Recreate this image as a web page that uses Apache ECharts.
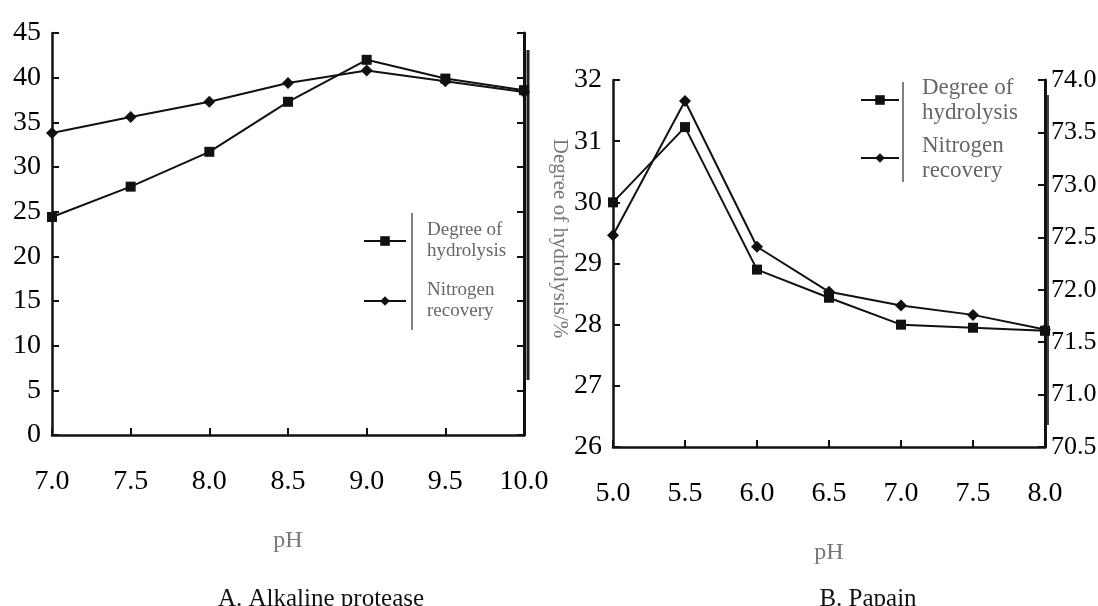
<!DOCTYPE html>
<html>
<head>
<meta charset="utf-8">
<script src="https://cdn.jsdelivr.net/npm/echarts@6/dist/echarts.min.js"></script>
<style>
  html, body { margin: 0; padding: 0; background: #fff; }
  #chart { width: 1098px; height: 606px; }
</style>
</head>
<body>
<div id="chart"></div>
<script>
// A. Alkaline protease
var phA = ['7.0', '7.5', '8.0', '8.5', '9.0', '9.5', '10.0']
var dhA = [24.4, 27.8, 31.7, 37.3, 42.0, 39.9, 38.6]
var nrA = [33.8, 35.6, 37.3, 39.4, 40.8, 39.6, 38.4]
// B. Papain
var phB = ['5.0', '5.5', '6.0', '6.5', '7.0', '7.5', '8.0']
var dhB = [30.0, 31.23, 28.9, 28.44, 28.0, 27.95, 27.9]
var nrB = [72.52, 73.8, 72.41, 71.98, 71.85, 71.76, 71.62]

var nameDH = 'Degree of\nhydrolysis'
var nameNR = 'Nitrogen\nrecovery'

var serif = "'Liberation Serif', 'DejaVu Serif', serif"
var tickFont = { fontFamily: serif, fontSize: 28, color: '#000' }
var axLine = { lineStyle: { color: '#111', width: 2.5 } }

function xAxisOf(grid, cats) {
  return {
    type: 'category', gridIndex: grid, data: cats, boundaryGap: false,
    axisLine: axLine,
    axisTick: { inside: true, length: 7, lineStyle: { color: '#111', width: 2 } },
    axisLabel: Object.assign({ margin: 33 }, tickFont),
    name: 'pH', nameLocation: 'middle', nameGap: 94,
    nameTextStyle: { fontFamily: serif, fontSize: 24, color: '#777' },
    splitLine: { show: false }
  }
}

function yAxisOf(grid, pos, min, max, step, showLabel, digits) {
  return {
    type: 'value', gridIndex: grid, position: pos, min: min, max: max, interval: step,
    axisLine: { show: true, lineStyle: { color: '#111', width: pos === 'right' ? 3 : 2.5 } },
    axisTick: { show: true, inside: true, length: 7, lineStyle: { color: '#111', width: 2 } },
    axisLabel: Object.assign({
      show: showLabel, margin: pos === 'right' ? 6 : 11,
      formatter: function(v) { return v.toFixed(digits) }
    }, tickFont),
    splitLine: { show: false }
  }
}

var rightB = yAxisOf(1, 'right', 70.5, 74, 0.5, true, 1)
rightB.axisLabel.fontSize = 26

var chart = echarts.init(document.getElementById('chart'))

var option = {
  backgroundColor: '#fff',
  animation: false,
  title: [
    { text: 'A. Alkaline protease', left: 316, top: 582, textAlign: 'center',
      textStyle: { fontFamily: serif, fontSize: 25, fontWeight: 'normal', color: '#111' } },
    { text: 'B. Papain', left: 863, top: 582, textAlign: 'center',
      textStyle: { fontFamily: serif, fontSize: 25, fontWeight: 'normal', color: '#111' } }
  ],
  grid: [
    { left: 52, top: 33, width: 472, height: 402, outerBoundsMode: 'none' },
    { left: 613, top: 80, width: 432, height: 367, outerBoundsMode: 'none' }
  ],
  xAxis: [xAxisOf(0, phA), xAxisOf(1, phB)],
  yAxis: [
    yAxisOf(0, 'left', 0, 45, 5, true, 0),
    yAxisOf(0, 'right', 0, 45, 5, false, 0),
    Object.assign(yAxisOf(1, 'left', 26, 32, 1, true, 0), {
      name: 'Degree of hydrolysis/%', nameLocation: 'middle', nameGap: 42, nameRotate: -90,
      nameTextStyle: { fontFamily: serif, fontSize: 21, color: '#777', padding: [0, 50, 0, 0] }
    }),
    rightB
  ],
  legend: [
    {
      data: [nameDH, nameNR], orient: 'vertical', left: 358, top: 215,
      itemWidth: 42, itemHeight: 12, itemGap: 18,
      textStyle: { fontFamily: serif, fontSize: 19, lineHeight: 21, color: '#666', padding: [0, 0, 0, 16] }
    },
    {
      data: [nameDH, nameNR], orient: 'vertical', left: 855, top: 70,
      itemWidth: 38, itemHeight: 12, itemGap: 8,
      textStyle: { fontFamily: serif, fontSize: 23, lineHeight: 25, color: '#666', padding: [0, 0, 0, 18] }
    }
  ],
  graphic: [
    { type: 'line', shape: { x1: 412, y1: 213, x2: 412, y2: 330 }, style: { stroke: '#555', lineWidth: 1.5 } },
    { type: 'line', shape: { x1: 903, y1: 82, x2: 903, y2: 182 }, style: { stroke: '#555', lineWidth: 1.5 } },
    // doubled right frame edges seen in the scan
    { type: 'line', shape: { x1: 528, y1: 50, x2: 528, y2: 380 }, style: { stroke: '#222', lineWidth: 3 } },
    { type: 'line', shape: { x1: 1048, y1: 95, x2: 1048, y2: 425 }, style: { stroke: '#444', lineWidth: 2 } }
  ],
  series: [
    { name: nameDH, type: 'line', xAxisIndex: 0, yAxisIndex: 0, data: dhA,
      symbol: 'rect', symbolSize: 10, lineStyle: { color: '#111', width: 2 }, itemStyle: { color: '#111' } },
    { name: nameNR, type: 'line', xAxisIndex: 0, yAxisIndex: 0, data: nrA,
      symbol: 'diamond', symbolSize: 12, lineStyle: { color: '#111', width: 2 }, itemStyle: { color: '#111' } },
    { name: nameDH, type: 'line', xAxisIndex: 1, yAxisIndex: 2, data: dhB,
      symbol: 'rect', symbolSize: 10, lineStyle: { color: '#111', width: 2 }, itemStyle: { color: '#111' } },
    { name: nameNR, type: 'line', xAxisIndex: 1, yAxisIndex: 3, data: nrB,
      symbol: 'diamond', symbolSize: 12, lineStyle: { color: '#111', width: 2 }, itemStyle: { color: '#111' } }
  ]
}

chart.setOption(option)
</script>
</body>
</html>
